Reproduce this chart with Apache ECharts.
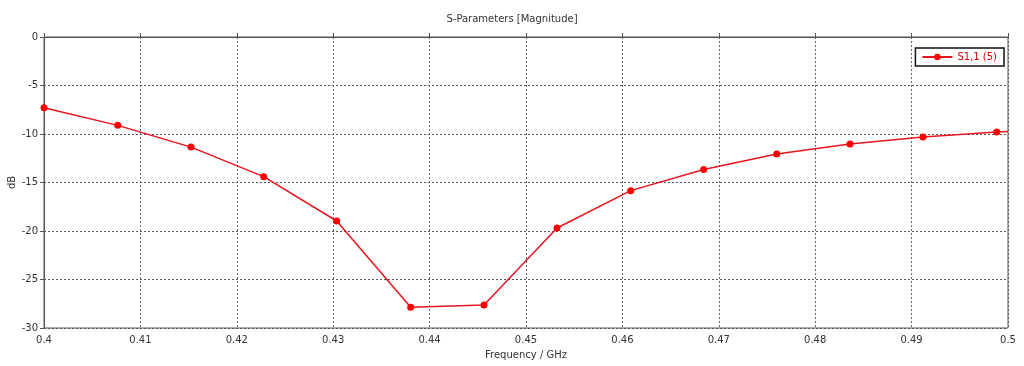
<!DOCTYPE html>
<html><head><meta charset="utf-8">
<script src="https://cdn.jsdelivr.net/npm/echarts@6/dist/echarts.min.js"></script>
<style>html,body{margin:0;padding:0;background:#fff}#c{width:1024px;height:366px}</style>
</head><body><div id="c"></div>
<script>
const freqs = [0.4, 0.40765, 0.41525, 0.42279, 0.43036, 0.43804, 0.44564, 0.45322, 0.46086, 0.46843, 0.47601, 0.48361, 0.49118, 0.49883, 0.5];
const s11 = [-7.29, -9.11, -11.35, -14.40, -18.97, -27.86, -27.62, -19.69, -15.84, -13.65, -12.07, -11.04, -10.32, -9.80, -9.75];
const markerShown = [1,1,1,1,1,1,1,1,1,1,1,1,1,1,0];
const xTicks = [0.4,0.41,0.42,0.43,0.44,0.45,0.46,0.47,0.48,0.49,0.5];
const yTicks = [0,-5,-10,-15,-20,-25,-30];
const seriesName = 'S1,1 (5)';

const font = 'DejaVu Sans';
const axisCol = '#555';
const data = freqs.map((f,i)=>({value:[f,s11[i]], symbol: markerShown[i]?'circle':'none'}));
const chart = echarts.init(document.getElementById('c'), null, {renderer:'canvas'});
chart.setOption({
  animation:false,
  title:{text:'S-Parameters [Magnitude]', left:'center', top:9,
    textStyle:{fontFamily:font, fontSize:10, fontWeight:'normal', color:'#333'}},
  legend:{right:20, top:48, orient:'vertical', backgroundColor:'#fff', borderColor:'#111', borderWidth:1.5,
    borderRadius:0, padding:[4,7,4,6], itemWidth:30, itemHeight:8, itemGap:4,
    textStyle:{fontFamily:font, fontSize:10, color:'#e00000'},
    data:[seriesName]},
  grid:{left:44, right:16, top:37, bottom:38, show:true, borderColor:axisCol, borderWidth:1,
    containLabel:false, outerBoundsMode:'none'},
  xAxis:{type:'value', min:0.4, max:0.5, interval:0.01,
    name:'Frequency / GHz', nameLocation:'middle', nameGap:22, nameMoveOverlap:false,
    nameTextStyle:{fontFamily:font, fontSize:10, color:'#333'},
    axisLine:{show:true, lineStyle:{color:axisCol}},
    axisTick:{show:true, inside:true, length:4, lineStyle:{color:axisCol}},
    axisLabel:{fontFamily:font, fontSize:10, color:'#333', margin:7,
      formatter:v=>{const t=xTicks.find(k=>Math.abs(k-v)<1e-9);return t===undefined?'':String(t);}},
    splitLine:{show:true, lineStyle:{color:'#666', type:[2,2], width:1}}},
  yAxis:{type:'value', min:-30, max:0, interval:5,
    name:'dB', nameLocation:'middle', nameGap:27, nameRotate:90, nameMoveOverlap:false,
    nameTextStyle:{fontFamily:font, fontSize:10, color:'#333'},
    axisLine:{show:true, lineStyle:{color:axisCol}},
    axisTick:{show:true, length:4, lineStyle:{color:axisCol}},
    axisLabel:{fontFamily:font, fontSize:10, color:'#333', margin:6,
      formatter:v=>{const t=yTicks.find(k=>Math.abs(k-v)<1e-9);return t===undefined?'':String(t);}},
    splitLine:{show:true, lineStyle:{color:'#555', type:[2,2], width:1}}},
  series:[{name:seriesName, type:'line', data:data, symbol:'circle', symbolSize:7,
    showAllSymbol:true, clip:true,
    lineStyle:{color:'#e8141e', width:1.5}, itemStyle:{color:'#ff0000'}}]
});
</script></body></html>
